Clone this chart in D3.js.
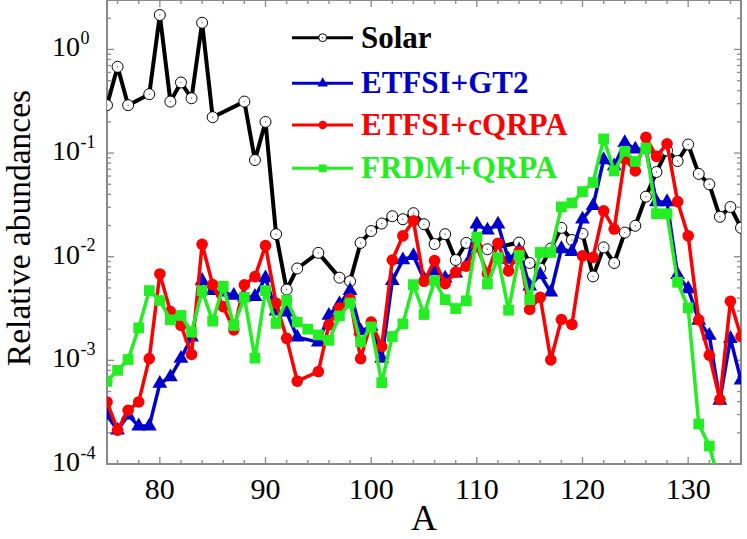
<!DOCTYPE html>
<html><head><meta charset="utf-8">
<script src="https://cdn.jsdelivr.net/npm/d3@7"></script>
<style>
html,body{margin:0;padding:0;background:#fff;}
svg text{font-family:"Liberation Serif","Times New Roman",serif;}
</style></head>
<body>
<svg id="chart" width="747" height="539"></svg>
<script>
// ---------- data ----------
const solarA = [75,76,77,79,80,81,82,83,84,85,88,89,90,91,92,93,95,97,98,99,100,101,102,103,104,105,106,107,108,109,111,114,115,116,117,118,119,120,121,122,123,124,125,126,127,128,129,130,131,132,133,134,135];
const solarY = [0.29,0.68,0.29,0.37,2.15,0.314,0.48,0.338,1.81,0.222,0.314,0.0857,0.2,0.0165,0.00482,0.0077,0.0109,0.00628,0.0058,0.0136,0.0177,0.0209,0.0246,0.023,0.0263,0.0206,0.01325,0.0165,0.0093,0.0136,0.0118,0.0137,0.0087,0.0077,0.012,0.019,0.0145,0.0167,0.00646,0.0123,0.0087,0.0171,0.0199,0.038,0.0657,0.106,0.0838,0.121,0.063,0.05,0.0243,0.0302,0.019];

const gt2A = [75,76,77,78,79,80,81,82,83,84,85,86,87,88,89,90,91,92,93,95,96,97,98,99,100,101,102,103,104,105,106,107,108,109,110,111,112,113,114,115,116,117,118,119,120,121,122,123,124,125,126,127,128,129,130,131,132,133,134,135];
const gt2Y = [2.96e-4,2.12e-4,2.96e-4,2.32e-4,2.32e-4,5.97e-4,6.91e-4,1.04e-3,1.67e-3,5.88e-3,4.71e-3,4.54e-3,4.22e-3,4.06e-3,4.12e-3,6.24e-3,2.98e-3,2.91e-3,1.67e-3,1.5e-3,2.71e-3,3.5e-3,4.71e-3,1.92e-3,2.12e-3,1.04e-3,5.88e-3,9.3e-3,1.02e-2,6.1e-3,7.33e-3,6.2e-3,6.95e-3,8.2e-3,2.06e-2,1.8e-2,2.06e-2,9.4e-3,1.15e-2,5.2e-3,6.7e-3,4.54e-3,1.19e-2,1.12e-2,2.3e-2,3.1e-2,8.6e-2,7.5e-2,1.26e-1,1.09e-1,1.09e-1,3.38e-2,3.38e-2,6.7e-3,4.89e-3,2.43e-3,1.74e-3,4.1e-4,1.62e-3,6.43e-4];

const cqrpaA = [75,76,77,78,79,80,81,82,83,84,85,86,87,88,89,90,91,92,93,95,96,97,98,99,100,101,102,103,104,105,106,107,108,109,110,111,112,113,114,115,116,117,118,119,120,121,122,123,124,125,126,127,128,129,130,131,132,133,134,135];
const cqrpaY = [3.97e-4,2.12e-4,3.3e-4,3.97e-4,1.04e-3,6.82e-3,2.96e-3,2.17e-3,1.14e-3,1.32e-2,5.38e-3,3.3e-3,1.97e-3,5.35e-3,6.42e-3,1.28e-2,3.56e-3,1.63e-3,6.3e-4,7.8e-4,2.2e-3,3.2e-3,3.92e-3,1.04e-3,2.34e-3,1.36e-3,9.3e-3,1.59e-2,2.22e-2,5.79e-3,9.16e-3,5.5e-3,7.1e-3,8.1e-3,1.25e-2,6.9e-3,1.35e-2,7.3e-3,1.12e-2,3.1e-3,4.06e-3,1.01e-3,2.48e-3,2.22e-3,1.02e-2,9.86e-3,2.77e-2,1.85e-2,8.8e-2,6.72e-2,1.42e-1,9.3e-2,1.23e-1,3.4e-2,1.59e-2,2.46e-3,1.12e-3,4.19e-4,3.72e-3,1.70e-3];

const frdmA = [75,76,77,78,79,80,81,82,83,84,85,86,87,88,89,90,91,92,93,94,95,96,97,98,99,100,101,102,103,104,105,106,107,108,109,110,111,112,113,114,115,116,117,118,119,120,121,122,123,124,125,126,127,128,129,130,131,132,133];
const frdmY = [6.28e-4,8.0e-4,1.02e-3,2.06e-3,4.71e-3,3.78e-3,2.46e-3,2.71e-3,1.87e-3,4.71e-3,2.39e-3,5.18e-3,2.17e-3,4.06e-3,1.05e-3,4.71e-3,2.27e-3,3.8e-3,2.34e-3,2.0e-3,1.76e-3,1.56e-3,2.68e-3,3.57e-3,1.51e-3,2.1e-3,6.1e-4,1.70e-3,2.25e-3,5.38e-3,2.77e-3,5.88e-3,3.85e-3,3.16e-3,3.75e-3,1.55e-2,5.46e-3,9.8e-3,3.05e-3,1.03e-2,3.85e-3,1.1e-2,1.1e-2,3.03e-2,3.3e-2,4.25e-2,5.2e-2,1.37e-1,6.72e-2,1.04e-1,8.3e-2,1.12e-1,2.6e-2,2.6e-2,5.66e-3,3.21e-3,2.43e-4,1.49e-4,6.4e-5];

const seriesNames = ["Solar","ETFSI+GT2","ETFSI+cQRPA","FRDM+QRPA"];
const xTickValues = [80,90,100,110,120,130];
const yTickExponents = [-4,-3,-2,-1,0];

// ---------- layout ----------
const L = 107, R = 741, T = 0, B = 464;
const svg = d3.select("#chart");
const x = d3.scaleLinear().domain([75,135]).range([L,R]);
const y = d3.scaleLog().domain([1e-4,3]).range([B,T]);
const axisColor = "#8a8a8a";

svg.append("defs").append("clipPath").attr("id","clip")
  .append("rect").attr("x",L).attr("y",T).attr("width",R-L).attr("height",B-T);

// ticks
const g = svg.append("g");
const majorX = xTickValues;
const minorX = d3.range(76,135,2).filter(v => v%10!==0);
const majorY = yTickExponents.map(e => Math.pow(10,e));
const minorY = [];
for (let e=-4;e<=0;e++) for (let m=2;m<=9;m++){ const v=m*Math.pow(10,e); if (v<=3) minorY.push(v); }

function tickLines(vals, len, axis){
  vals.forEach(v=>{
    if(axis==="x"){
      g.append("line").attr("x1",x(v)).attr("x2",x(v)).attr("y1",B).attr("y2",B-len).attr("stroke",axisColor).attr("stroke-width",1.3);
      g.append("line").attr("x1",x(v)).attr("x2",x(v)).attr("y1",T).attr("y2",T+len).attr("stroke",axisColor).attr("stroke-width",1.3);
    } else {
      g.append("line").attr("y1",y(v)).attr("y2",y(v)).attr("x1",L).attr("x2",L+len).attr("stroke",axisColor).attr("stroke-width",1.3);
      g.append("line").attr("y1",y(v)).attr("y2",y(v)).attr("x1",R).attr("x2",R-len).attr("stroke",axisColor).attr("stroke-width",1.3);
    }
  });
}
tickLines(majorX,7,"x"); tickLines(minorX,4,"x");
tickLines(majorY,7,"y"); tickLines(minorY,4,"y");

g.append("rect").attr("x",L).attr("y",T).attr("width",R-L).attr("height",B-T)
  .attr("fill","none").attr("stroke",axisColor).attr("stroke-width",2);

// tick labels
majorX.forEach(v=>{
  svg.append("text").attr("x",x(v)).attr("y",499).attr("text-anchor","middle")
    .attr("font-size",30).attr("fill","#000").text(v);
});
yTickExponents.forEach(e=>{
  const yy = y(Math.pow(10,e));
  svg.append("text").attr("x",80).attr("y",yy+7).attr("text-anchor","end")
    .attr("font-size",28).attr("fill","#000").text("10");
  svg.append("text").attr("x",80.5).attr("y",yy-5.5).attr("text-anchor","start")
    .attr("font-size",18).attr("fill","#000").text(e===0?"0":"-"+(-e));
});

// axis titles
svg.append("text").attr("x",424).attr("y",530).attr("text-anchor","middle")
  .attr("font-size",36).attr("fill","#000").text("A");
svg.append("text").attr("transform","translate(30,228) rotate(-90)").attr("text-anchor","middle")
  .attr("font-size",33.5).attr("fill","#000").text("Relative abundances");

// series
const plot = svg.append("g").attr("clip-path","url(#clip)");
const line = d3.line().x(d=>x(d[0])).y(d=>y(d[1]));
const colors = ["#000000","#0000cc","#ff0000","#22ee22"];
const shapes = ["open","triangle","circle","square"];
const allData = [
  d3.zip(solarA,solarY), d3.zip(gt2A,gt2Y), d3.zip(cqrpaA,cqrpaY), d3.zip(frdmA,frdmY)
];
const lw = [4,3.5,3.5,3.5];

function drawMarker(sel, shape, color, cx, cy, scale){
  if(shape==="open"){
    sel.append("circle").attr("cx",cx).attr("cy",cy).attr("r",5.5*scale).attr("fill","#fff").attr("stroke","#000").attr("stroke-width",1);
    sel.append("circle").attr("cx",cx).attr("cy",cy).attr("r",0.7).attr("fill","#666");
  } else if(shape==="circle"){
    sel.append("circle").attr("cx",cx).attr("cy",cy).attr("r",5.8*scale).attr("fill",color);
  } else if(shape==="triangle"){
    sel.append("path").attr("d",d3.symbol().type(d3.symbolTriangle).size(95*scale*scale)())
      .attr("transform",`translate(${cx},${cy})`).attr("fill",color);
  } else {
    sel.append("path").attr("d",d3.symbol().type(d3.symbolSquare).size(115*scale*scale)())
      .attr("transform",`translate(${cx},${cy})`).attr("fill",color);
  }
}

allData.forEach((data,i)=>{
  const sg = plot.append("g");
  sg.append("path").datum(data).attr("d",line).attr("fill","none")
    .attr("stroke",colors[i]).attr("stroke-width",lw[i]).attr("stroke-linejoin","round");
  data.forEach(d=>{ drawMarker(sg, shapes[i], colors[i], x(d[0]), y(d[1]), 1); });
});

// legend
const legY = [37.7,83.3,125,168.3];
seriesNames.forEach((name,i)=>{
  const lg = svg.append("g");
  lg.append("line").attr("x1",292).attr("x2",353).attr("y1",legY[i]).attr("y2",legY[i])
    .attr("stroke",colors[i]).attr("stroke-width",3);
  drawMarker(lg, shapes[i], colors[i], 322.7, legY[i], 0.72);
  lg.append("text").attr("x",361).attr("y",legY[i]+10).attr("font-size",31)
    .attr("font-weight","bold").attr("fill",colors[i]).text(name);
});
</script>
</body></html>
